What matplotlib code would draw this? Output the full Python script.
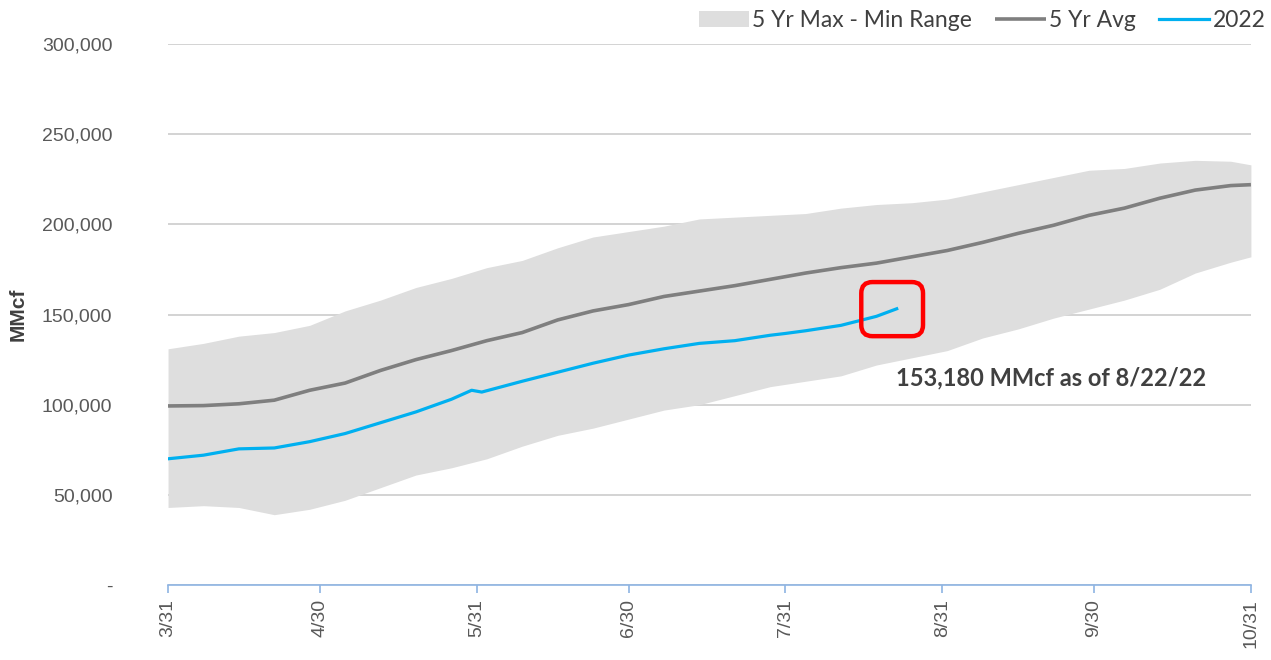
import numpy as np
import matplotlib.pyplot as plt
from matplotlib.patches import FancyBboxPatch

# days counted from 3/31, weekly readings
days = [0, 7, 14, 21, 28, 35, 42, 49, 56, 63, 70, 77, 84, 91, 98, 105,
        112, 119, 126, 133, 140, 147, 154, 161, 168, 175, 182, 189, 196,
        203, 210, 214]

yr5_max = [131, 134, 138, 140, 144, 152, 158, 165, 170, 176, 180, 187,
           193, 196, 199, 203, 204, 205, 206, 209, 211, 212, 214, 218,
           222, 226, 230, 231, 234, 235.5, 235, 233]
yr5_min = [43, 44, 43, 39, 42, 47, 54, 61, 65, 70, 77, 83, 87, 92, 97,
           100, 105, 110, 113, 116, 122, 126, 130, 137, 142, 148, 153,
           158, 164, 173, 179, 182]
yr5_avg = [99.3, 99.5, 100.5, 102.5, 108, 112, 119, 125, 130, 135.5, 140,
           147, 152, 155.5, 160, 163, 166, 169.5, 173, 176, 178.5, 182,
           185.5, 190, 195, 199.5, 205, 209, 214.5, 219, 221.5, 222]

days_2022 = [0, 7, 14, 21, 28, 35, 42, 49, 56, 60, 62, 70, 77, 84, 91, 98,
             105, 112, 119, 122, 126, 133, 140, 144]
val_2022 = [70, 72, 75.5, 76, 79.5, 84, 90, 96, 103, 108, 107, 113, 118,
            123, 127.5, 131, 134, 135.5, 138.5, 139.5, 141, 144, 149, 153.18]

tick_days = [0, 30, 61, 91, 122, 153, 183, 214]
tick_labels = ['3/31', '4/30', '5/31', '6/30', '7/31', '8/31', '9/30', '10/31']

# thousands -> MMcf
k = 1000.0
mx = np.array(yr5_max) * k
mn = np.array(yr5_min) * k
av = np.array(yr5_avg) * k
cur = np.array(val_2022) * k

plt.rcParams['font.family'] = ['Liberation Sans', 'DejaVu Sans']

fig = plt.figure(figsize=(12.71, 6.6), dpi=100)
ax = fig.add_axes([0.1322, 0.1136, 0.852, 0.8197])

ax.fill_between(days, mn, mx, color='#DEDEDE', lw=0, label='5 Yr Max - Min Range')
ax.plot(days, av, color='#7F7F7F', lw=2.6, label='5 Yr Avg', solid_capstyle='butt')
ax.plot(days_2022, cur, color='#00B0F0', lw=2.3, label='2022')

ax.set_xlim(0, 214)
ax.set_ylim(0, 300000)
ax.set_yticks(np.arange(0, 300001, 50000))
ax.set_yticklabels(['-' if v == 0 else f'{v:,}' for v in range(0, 300001, 50000)])
ax.set_xticks(tick_days)
ax.set_xticklabels(tick_labels, rotation=90)

ax.grid(axis='y', color='#D0D0D0', lw=1.3)
ax.set_axisbelow(True)
for s in ['top', 'right', 'left']:
    ax.spines[s].set_visible(False)
ax.spines['bottom'].set_color('#8EB4E3')
ax.spines['bottom'].set_linewidth(1.2)
ax.tick_params(axis='y', length=0, labelsize=14, labelcolor='#595959', pad=40)
ax.tick_params(axis='x', length=6, width=1.2, color='#8EB4E3',
               labelsize=14, labelcolor='#595959', pad=4)

ax.set_ylabel('MMcf', fontsize=15, fontweight='bold', color='#404040', labelpad=10)

# red callout box around latest point
box = FancyBboxPatch((137, 138000), 12.2, 30000,
                     boxstyle='round,pad=0,rounding_size=2.2',
                     mutation_aspect=2806, fc='none', ec='#FF0000', lw=3.2,
                     zorder=5)
ax.add_patch(box)
ax.text(143.8, 115000, '153,180 MMcf as of 8/22/22', fontsize=17,
        fontweight='bold', color='#404040', va='center', ha='left',
        family=['Lato', 'DejaVu Sans'])

leg = ax.legend(loc='upper right', bbox_to_anchor=(1.022, 1.08), ncol=3,
                frameon=False, handlelength=2.2, borderaxespad=0,
                handletextpad=0.15, columnspacing=1.0,
                prop={'family': ['Lato', 'DejaVu Sans'], 'size': 16.5})
for t in leg.get_texts():
    t.set_color('#404040')

fig.savefig('out.png', dpi=100)
